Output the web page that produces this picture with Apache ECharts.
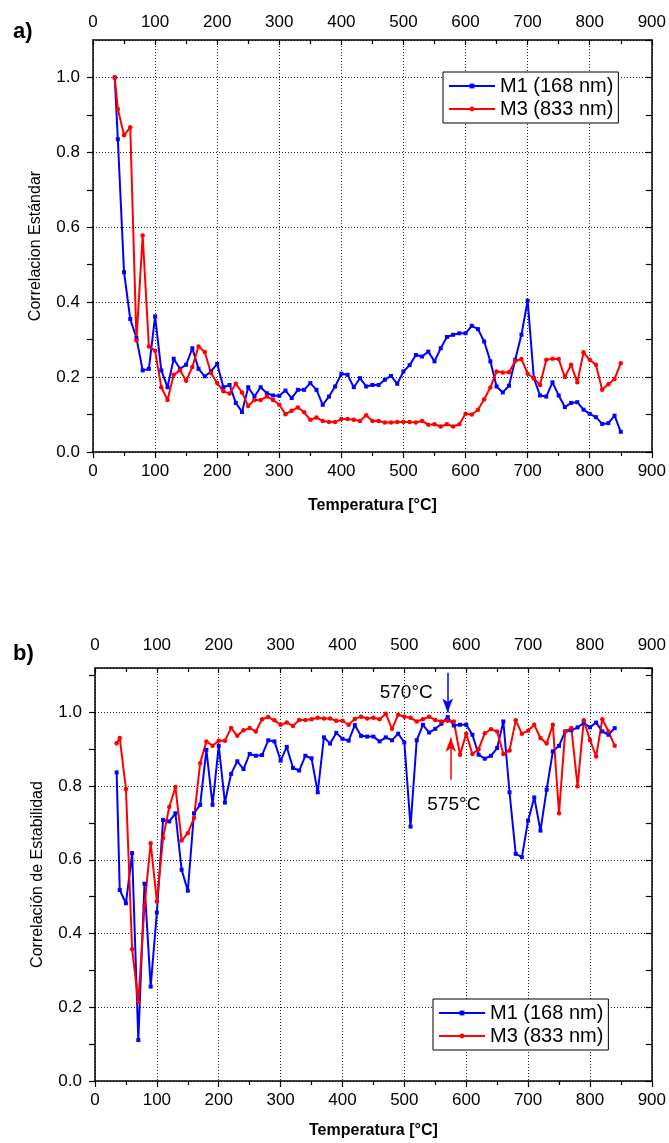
<!DOCTYPE html>
<html>
<head>
<meta charset="utf-8">
<style>
html,body{margin:0;padding:0;background:#fff;}
#chart{width:669px;height:1143px;}
</style>
<script src="https://cdn.jsdelivr.net/npm/echarts@6/dist/echarts.min.js"></script>
</head>
<body>
<div id="chart"></div>
<script>
// ---------- data ----------
const seriesNames = ['M1 (168 nm)', 'M3 (833 nm)'];
const xTicks = [0,100,200,300,400,500,600,700,800,900];

const tempsA = [35,40,50,60,70,80,90,100,110,120,130,140,150,160,170,180,190,200,210,220,230,240,250,260,270,280,290,300,310,320,330,340,350,360,370,380,390,400,410,420,430,440,450,460,470,480,490,500,510,520,530,540,550,560,570,580,590,600,610,620,630,640,650,660,670,680,690,700,710,720,730,740,750,760,770,780,790,800,810,820,830,840,850];
const blueA = [1.0,0.835,0.48,0.355,0.304,0.218,0.222,0.362,
  0.218,0.173,0.249,0.222,0.233,0.277,0.222,0.202,0.215,0.235,
  0.173,0.179,0.131,0.107,0.173,0.148,0.173,0.157,0.151,0.150,
  0.164,0.144,0.166,0.166,0.184,0.166,0.126,0.148,0.175,0.209,
  0.206,0.173,0.197,0.175,0.179,0.179,0.193,0.203,0.182,0.215,
  0.232,0.259,0.255,0.268,0.242,0.277,0.307,0.313,0.317,0.317,
  0.337,0.328,0.295,0.242,0.175,0.159,0.177,0.246,0.313,0.404,
  0.197,0.151,0.148,0.186,0.151,0.120,0.131,0.133,0.113,0.102,
  0.093,0.075,0.077,0.097,0.054];
const redA = [1.0,0.916,0.846,0.867,0.298,0.578,0.282,0.27,
  0.173,0.139,0.206,0.218,0.19,0.227,0.282,0.267,0.211,0.184,
  0.162,0.156,0.182,0.159,0.123,0.139,0.139,0.148,0.139,0.126,
  0.101,0.11,0.119,0.106,0.086,0.092,0.083,0.08,0.08,0.088,
  0.088,0.086,0.083,0.098,0.083,0.083,0.079,0.079,0.08,0.08,
  0.08,0.079,0.083,0.073,0.074,0.068,0.074,0.068,0.074,0.102,
  0.1,0.113,0.141,0.172,0.215,0.212,0.213,0.243,0.248,0.209,
  0.197,0.179,0.246,0.249,0.248,0.2,0.233,0.186,0.266,0.246,
  0.233,0.166,0.181,0.195,0.237];

const tempsB = [35,40,50,60,70,80,90,100,110,120,130,140,150,160,170,180,190,200,210,220,230,240,250,260,270,280,290,300,310,320,330,340,350,360,370,380,390,400,410,420,430,440,450,460,470,480,490,500,510,520,530,540,550,560,570,580,590,600,610,620,630,640,650,660,670,680,690,700,710,720,730,740,750,760,770,780,790,800,810,820,830,840];
const blueB = [0.837,0.518,0.482,0.618,0.111,0.535,0.256,0.457,
  0.708,0.704,0.726,0.573,0.516,0.726,0.749,0.898,0.749,0.909,
  0.755,0.833,0.867,0.846,0.887,0.882,0.884,0.924,0.921,0.869,
  0.906,0.849,0.842,0.882,0.875,0.783,0.932,0.915,0.944,0.928,
  0.923,0.965,0.936,0.934,0.934,0.921,0.932,0.924,0.942,0.918,
  0.69,0.924,0.966,0.945,0.955,0.969,0.987,0.964,0.966,0.966,
  0.939,0.885,0.874,0.882,0.903,0.975,0.783,0.616,0.607,0.706,
  0.769,0.679,0.79,0.894,0.909,0.948,0.951,0.959,0.971,0.959,
  0.972,0.948,0.939,0.957];
const redB = [0.916,0.93,0.792,0.357,0.215,0.475,0.645,0.487,
  0.659,0.743,0.797,0.652,0.672,0.713,0.862,0.921,0.909,0.923,
  0.923,0.957,0.936,0.951,0.957,0.948,0.981,0.987,0.978,0.966,
  0.972,0.963,0.979,0.979,0.981,0.985,0.983,0.983,0.977,0.977,
  0.966,0.982,0.988,0.983,0.985,0.981,0.996,0.955,0.993,0.988,
  0.985,0.975,0.981,0.988,0.979,0.975,0.977,0.975,0.885,0.942,
  0.887,0.9,0.943,0.954,0.948,0.887,0.896,0.978,0.942,0.95,
  0.966,0.93,0.915,0.966,0.726,0.948,0.957,0.799,0.978,0.925,
  0.88,0.981,0.948,0.909];

// annotations (chart b): arrows [x, yStart, yEnd] and texts [x, y, text]
const blueArrow = [570, 1.107, 0.999];
const redArrow = [575, 0.817, 0.931];
const blueNote = [503, 1.053, '570°C'];
const redNote = [580, 0.749, '575°C'];

// ---------- build ----------
const FONT = 'Liberation Sans, Arial, Helvetica, sans-serif';
const BLUE = '#0000ff', RED = '#ff0000';
const gridLine = {show:true, lineStyle:{color:'#222', width:1, type:[1,2]}};
const axLine = {show:true, onZero:false, lineStyle:{color:'#000', width:1.5}};

const grids = [
  {left:93, top:40, width:560, height:412},
  {left:95, top:668, width:557, height:413}
];
const yMax = [1.1, 1.12];
const topMargin = [9, 14];

function yLabelFmt(v){
  const k = Math.round(v*10);
  return (k % 2 === 0 && v <= 1.0001) ? v.toFixed(1) : '';
}

const xAxis = [], yAxis = [];
[0,1].forEach(g => {
  xAxis.push({
    type:'value', gridIndex:g, position:'bottom', min:0, max:900, interval:100,
    axisLine:axLine, axisTick:{show:true, length:6, lineStyle:{color:'#000', width:1.2}},
    minorTick:{show:true, splitNumber:2, length:4, lineStyle:{color:'#000', width:1.2}},
    axisLabel:{color:'#000', fontFamily:FONT, fontSize:17, margin:11},
    splitLine:gridLine,
    name:'Temperatura [°C]', nameLocation:'middle', nameGap: g===0 ? 46 : 42,
    nameTextStyle:{color:'#000', fontFamily:FONT, fontSize:16, fontWeight:'bold'}
  });
  xAxis.push({
    type:'value', gridIndex:g, position:'top', min:0, max:900, interval:100,
    axisLine:axLine, axisTick:{show:true, inside:true, length:5, lineStyle:{color:'#000', width:1.2}},
    minorTick:{show:true, splitNumber:2, length:4, lineStyle:{color:'#000', width:1.2}},
    axisLabel:{color:'#000', fontFamily:FONT, fontSize:17, margin:topMargin[g]},
    splitLine:{show:false}
  });
  yAxis.push({
    type:'value', gridIndex:g, position:'left', min:0, max:yMax[g], interval:0.1,
    axisLine:axLine, axisTick:{show:true, length:6, lineStyle:{color:'#000', width:1.2}},
    axisLabel:{color:'#000', fontFamily:FONT, fontSize:17, margin:13, formatter:yLabelFmt, showMaxLabel:false},
    splitLine:{show:false},
    name: g===0 ? 'Correlacion Estándar' : 'Correlación de Estabilidad',
    nameLocation:'middle', nameGap:49, nameRotate:90,
    nameTextStyle:{color:'#000', fontFamily:FONT, fontSize:16}
  });
  yAxis.push({
    type:'value', gridIndex:g, position:'right', min:0, max:yMax[g], interval:0.1,
    axisLine:axLine, axisTick:{show:true, inside:true, length:6, lineStyle:{color:'#000', width:1.2}},
    axisLabel:{show:false}, splitLine:{show:false}
  });
  yAxis.push({
    type:'value', gridIndex:g, position:'left', min:0, max:yMax[g], interval:0.2,
    axisLine:{show:false}, axisTick:{show:false}, axisLabel:{show:false},
    splitLine:gridLine
  });
});

function zip(t, v){ return t.map((x,i) => [x, v[i]]); }

function lineSeries(name, color, symbol, data, g){
  return {
    type:'line', name:name, xAxisIndex:g*2, yAxisIndex:g*3, data:data,
    symbol:symbol, symbolSize: symbol==='rect' ? 4 : 4.5, showSymbol:true,
    lineStyle:{color:color, width:2}, itemStyle:{color:color},
    animation:false, z:5
  };
}

const sBlueA = lineSeries(seriesNames[0], BLUE, 'rect', zip(tempsA, blueA), 0);
const sRedA = lineSeries(seriesNames[1], RED, 'circle', zip(tempsA, redA), 0);
const sBlueB = lineSeries(seriesNames[0], BLUE, 'rect', zip(tempsB, blueB), 1);
const sRedB = lineSeries(seriesNames[1], RED, 'circle', zip(tempsB, redB), 1);

function arrow(a, color){
  return {
    silent:true, symbol:['none','arrow'], symbolSize:12, animation:false,
    label:{show:false}, lineStyle:{color:color, width:1.5, type:'solid'},
    itemStyle:{color:color},
    data:[[{coord:[a[0], a[1]], symbol:'none'}, {coord:[a[0], a[2]], symbol:'arrow', symbolSize:[8,14]}]]
  };
}
function note(n){
  return {
    silent:true, symbol:'rect', symbolSize:1, animation:false,
    itemStyle:{color:'rgba(0,0,0,0)'},
    label:{show:true, position:'inside', formatter:n[2], color:'#000', fontFamily:FONT, fontSize:19},
    data:[{coord:[n[0], n[1]]}]
  };
}
sBlueB.markLine = arrow(blueArrow, BLUE);
sBlueB.markPoint = note(blueNote);
sRedB.markLine = arrow(redArrow, RED);
sRedB.markPoint = note(redNote);

function legend(left, top){
  return {
    orient:'vertical', left:left, top:top, itemWidth:46, itemHeight:6, itemGap:1,
    padding:[3,5,3,5], borderColor:'#000', borderWidth:1, backgroundColor:'#fff',
    selectedMode:false, data:seriesNames,
    textStyle:{color:'#000', fontFamily:FONT, fontSize:20, lineHeight:22}
  };
}

const option = {
  backgroundColor:'#fff',
  animation:false,
  title:[
    {text:'a)', left:8, top:16, textStyle:{fontFamily:FONT, fontSize:22, fontWeight:'bold', color:'#000'}},
    {text:'b)', left:8, top:638, textStyle:{fontFamily:FONT, fontSize:22, fontWeight:'bold', color:'#000'}}
  ],
  grid:grids,
  xAxis:xAxis,
  yAxis:yAxis,
  legend:[legend(443, 72), legend(433, 999)],
  series:[sBlueA, sRedA, sBlueB, sRedB]
};

const chart = echarts.init(document.getElementById('chart'), null, {renderer:'canvas'});
chart.setOption(option);
</script>
</body>
</html>
